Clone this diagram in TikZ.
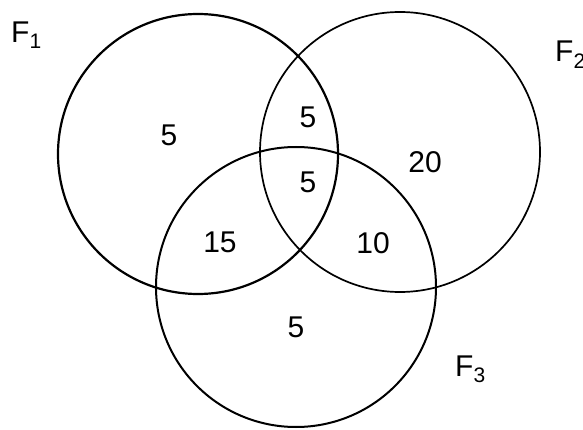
\documentclass[tikz,border=0pt]{standalone}
\usepackage{fontspec}
\setmainfont{Liberation Sans}
\usetikzlibrary{positioning}

\begin{document}
\begin{tikzpicture}[
    x=1pt, y=-1pt,
    every node/.style={font=\fontsize{30}{34}\selectfont},
    set/.style={draw, circle, minimum size=280pt, inner sep=0pt},
    count/.style={inner sep=0pt},
    setname/.style={inner sep=0pt, anchor=base west},
]
\useasboundingbox (0,0) rectangle (583,430);
% the three sets
\node[set, line width=2.2pt] (f1) at (198,154) {};
\node[set, line width=1.7pt] (f2) at (400,152) {};
\node[set, line width=2.0pt] (f3) at (296,287) {};
% set names
\node[setname] (n1) at (11,43) {F\textsubscript{1}};
\node[setname] (n2) at (555,62) {F\textsubscript{2}};
\node[setname] (n3) at (455,376) {F\textsubscript{3}};
% region counts
\node[count] (a)   at (169,135) {5};
\node[count] (ab)  at (308,117) {5};
\node[count] (abc) at (308,182) {5};
\node[count] (b)   at (425,162) {20};
\node[count] (ac)  at (220,242) {15};
\node[count] (bc)  at (373,243) {10};
\node[count] (c)   at (296,327) {5};
\end{tikzpicture}
\end{document}
